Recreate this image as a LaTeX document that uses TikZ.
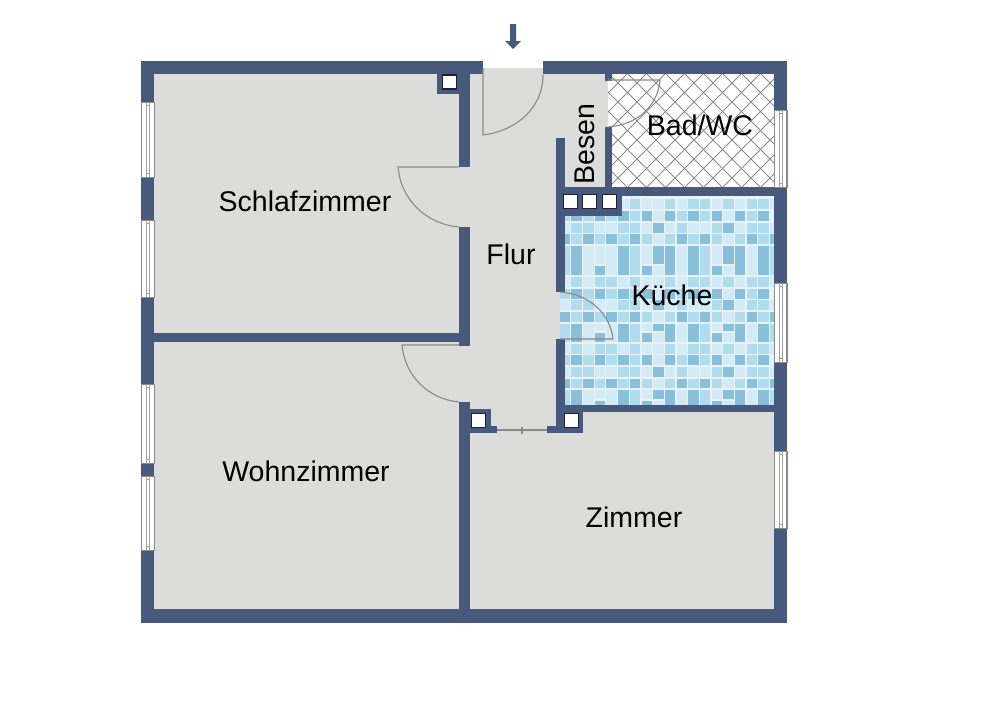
\documentclass[tikz,border=0pt]{standalone}
\usepackage{xcolor}
\usepackage{tikz}
\usepackage{fontspec}
\setmainfont{Liberation Sans}
\definecolor{wallblue}{HTML}{475A7D}
\definecolor{floorgray}{HTML}{DCDCDA}
\definecolor{linegray}{HTML}{8A8A8A}
\definecolor{chuteink}{HTML}{1C2236}
\definecolor{groutblue}{HTML}{E6F4FA}
\definecolor{tilelight}{HTML}{D3EBF5}
\definecolor{tilemid}{HTML}{B0DCEE}
\definecolor{tiledark}{HTML}{88BFDB}
\tikzset{
  wallfill/.style={fill=wallblue},
  doorline/.style={draw=linegray,line width=1.1pt},
  chutebox/.style={draw=chuteink,fill=white,line width=1.1pt,minimum width=13.5pt,minimum height=14pt,inner sep=0pt},
  roomlabel/.style={font=\fontsize{28.5}{30}\selectfont,text=black,inner sep=0pt}
}
% one band of tiles: top, bottom, colour, columns
\newcommand{\tilecells}[4]{
  \foreach \c in {#4}
  {
    \pgfmathsetmacro{\xpos}{559.2+11.67*\c}
    \fill[#3] (\xpos+0.6,#1+0.6) rectangle (\xpos+11.07,#2-0.6);
  }
}
% the three usual bands of the mosaic
\newcommand{\bandplain}[2]{
  \tilecells{#1}{#2}{tilelight}{0,...,18}
  \tilecells{#1}{#2}{tilemid}{1,3,4,6,9,11,12,14,16,17}
}
\newcommand{\bandodd}[2]{
  \tilecells{#1}{#2}{tilemid}{0,2,4,6,10,12,16}
  \tilecells{#1}{#2}{tilelight}{8,14}
  \tilecells{#1}{#2}{tiledark}{1,3,5,7,9,11,13,15,17}
}
\newcommand{\bandsingle}[2]{
  \tilecells{#1}{#2}{tilelight}{0,...,18}
  \tilecells{#1}{#2}{tilemid}{1,2,5,6,10,13,16,17}
  \tilecells{#1}{#2}{tiledark}{8,14}
}
\newcommand{\bandeven}[2]{
  \tilecells{#1}{#2}{tilemid}{1,3,5,7,9,11,13,15,17}
  \tilecells{#1}{#2}{tilelight}{8,14}
  \tilecells{#1}{#2}{tiledark}{0,2,4,6,10,12,16,18}
}
% tall tiles, split row given as third argument
\newcommand{\bandtall}[3]{
  \tilecells{#1}{#2}{tilelight}{2,4,10,16}
  \tilecells{#1}{#2}{tilemid}{0,6,12,18}
  \tilecells{#1}{#2}{tiledark}{1,5,9,11,15,17}
  \tilecells{#1}{#3}{tilelight}{3,7,13}
  \tilecells{#3}{#2}{tiledark}{3,7,13}
  \tilecells{#1}{#3}{tiledark}{8,14}
  \tilecells{#3}{#2}{tilelight}{8,14}
}
% window in an outer wall: left edge, top, bottom, outer edge
\newcommand{\windowpane}[4]{
  \fill[white] (#1,#2) rectangle (#1+13,#3);
  \draw[linegray,line width=0.6pt] (#1,#2) rectangle (#1+13,#3);
  \draw[linegray,line width=1.4pt] (#4,#2) -- (#4,#3);
  \draw[linegray!80,line width=0.5pt] (#1+4.8,#2) -- (#1+4.8,#3);
  \draw[linegray!80,line width=0.5pt] (#1+8.5,#2) -- (#1+8.5,#3);
  \draw[linegray!80,line width=0.5pt] (#1+4.8,#2+3.5) -- (#1+8.5,#2+3.5);
  \draw[linegray!80,line width=0.5pt] (#1+4.8,#3-3.5) -- (#1+8.5,#3-3.5);
}

\begin{document}
\begin{tikzpicture}[x=1pt,y=-1pt]
\useasboundingbox (0,0) rectangle (1000,707);
\fill[white] (0,0) rectangle (1000,707);

% Floors
\fill[floorgray] (154,74) rectangle (774,609);
\fill[floorgray] (483,68) rectangle (543,74);

% Bad: hatching
\fill[white] (608,74) rectangle (774,187);
\begin{scope}
\clip (608,74) rectangle (774,187);
\foreach \i in {0,...,15}
{
    \pgfmathsetmacro{\xpos}{495+19*\i}
    \draw[linegray,line width=0.9pt] (\xpos,74) -- (\xpos+113,187);
    \draw[linegray,line width=0.9pt] (\xpos+113,74) -- (\xpos,187);
}
\end{scope}

% Kueche: mosaic
\begin{scope}
\clip (560,196) rectangle (774,405);
\fill[groutblue] (560,196) rectangle (774,405);
\bandplain{198}{210}
\bandodd{210}{222}
\bandsingle{222}{233.5}
\bandeven{233.5}{245}
\bandtall{245}{276}{265}
\bandplain{276}{288}
\bandodd{288}{299.5}
\bandsingle{299.5}{311}
\bandeven{311}{323}
\bandtall{323}{343}{332}
\bandplain{343}{354.5}
\bandodd{354.5}{366}
\bandsingle{366}{378}
\bandeven{378}{389}
\bandtall{389}{408}{400}
\end{scope}

% Walls
\foreach \xa/\ya/\xb/\yb in {141/61/483/74, 543/61/787/74, 141/609/787/623,
    141/61/154/102, 141/177/154/220, 141/297/154/384, 141/463/154/476, 141/550/154/623,
    774/61/787/110, 774/187/787/283, 774/362/787/451, 774/528/787/623,
    154/333/459/342, 459/74/470/167, 459/227/470/346, 459/402/470/609,
    437/74/459/94, 470/409/491/433, 470/426/497/433,
    556/138/565/292, 556/339/565/433, 605/74/612/81, 605/127/612/187,
    556/187/787/196, 556/196/622/216, 556/405/774/412, 565/412/583/433, 547/426/556/433}
{
    \fill[wallfill] (\xa,\ya) rectangle (\xb,\yb);
}

% Windows
\foreach \ya/\yb in {102/177, 220/297, 384/463, 476/550}
{
    \windowpane{141}{\ya}{\yb}{141.7}
}
\foreach \ya/\yb in {110/187, 283/362, 451/528}
{
    \windowpane{774}{\ya}{\yb}{786.3}
}

% Chutes
\node[chutebox] (chutebed) at (449.5,82) {};
\node[chutebox] (chuteliving) at (478.5,420.5) {};
\node[chutebox] (chuteroom) at (571.5,420.5) {};
\node[chutebox] (chutekitchena) at (570.5,201.5) {};
\node[chutebox] (chutekitchenb) at (589.5,201.5) {};
\node[chutebox] (chutekitchenc) at (609.5,201.5) {};

% Doors
\draw[doorline] (483,68) -- (483,135) .. controls (516,131) and (543,108) .. (543,75);
\draw[doorline] (459,167) -- (398,167) .. controls (401,200) and (426,224) .. (459,227);
\draw[doorline] (459,345) -- (402,345) .. controls (405,376) and (428,399) .. (459,402);
\draw[doorline] (560,339) -- (613,339) .. controls (610,313) and (589,294) .. (560,292);
\draw[doorline] (608,80) -- (660,80) .. controls (658,106) and (637,125) .. (608,127);
\draw[doorline] (497,430) -- (547,430);
\draw[doorline] (522,426.5) -- (522,433.5);

% Entrance arrow
\fill[wallfill] (510,24) -- (516,24) -- (516,41) -- (521,41) -- (513,49) -- (505,41) -- (510,41) -- cycle;

% Rooms
\node[roomlabel] (schlafzimmer) at (305,201) {Schlafzimmer};
\node[roomlabel] (flur) at (511,254) {Flur};
\node[roomlabel,rotate=90] (besen) at (585,144) {Besen};
\node[roomlabel] (bad) at (700,125) {Bad/WC};
\node[roomlabel] (kueche) at (672,295) {Küche};
\node[roomlabel] (wohnzimmer) at (306,471) {Wohnzimmer};
\node[roomlabel] (zimmer) at (634,517) {Zimmer};
\end{tikzpicture}
\end{document}
